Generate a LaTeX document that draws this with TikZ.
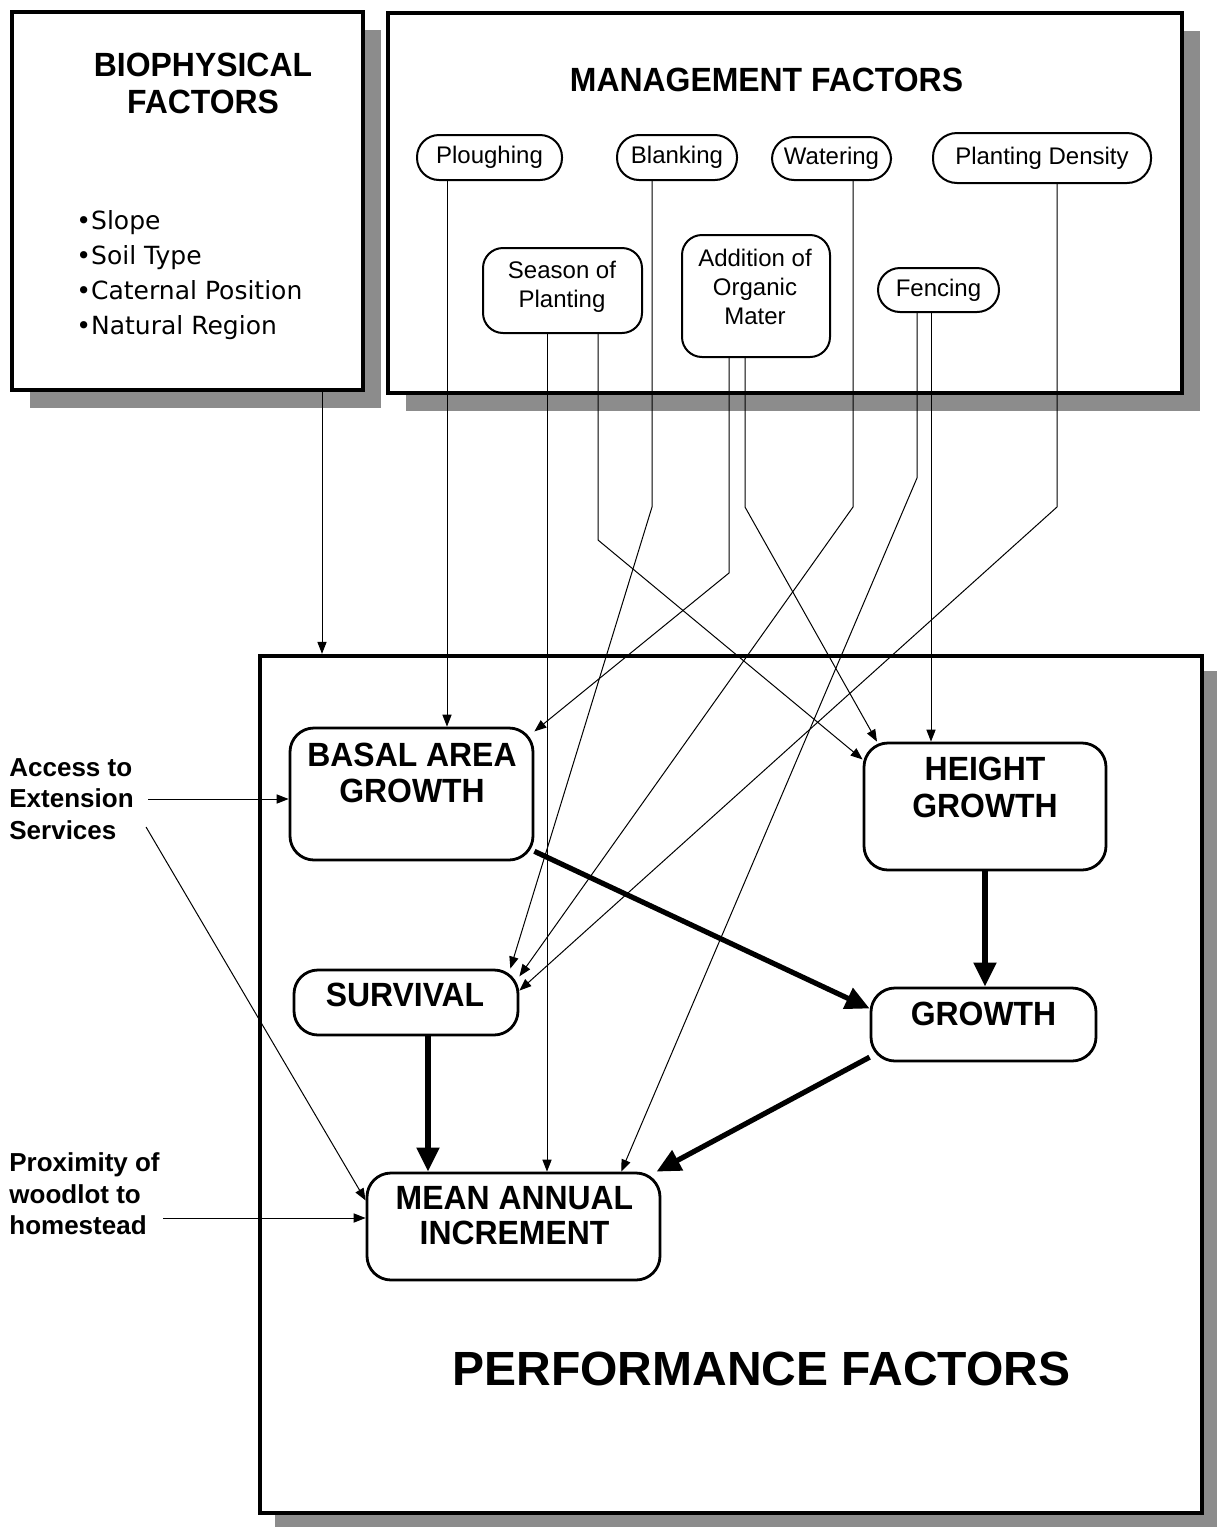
\documentclass[tikz,border=0pt]{standalone}
\usepackage{fontspec}
\setmainfont{Liberation Sans}
\newfontfamily\hbold{Liberation Sans}[FakeStretch=0.95]
\newfontfamily\bulletfont{DejaVu Sans}
\usetikzlibrary{arrows.meta,shadows}
\begin{document}
\begin{tikzpicture}[x=0.5pt,y=-0.5pt,
  bigbox/.style={draw,line width=2.2pt,fill=white,inner sep=0pt},
  bshadow/.style={drop shadow={shadow xshift=#1,shadow yshift=-#1,fill=black!45,opacity=1}},
  mfac/.style={draw,line width=1pt,rounded corners=11pt,fill=white,align=center,inner sep=0pt,
    font=\fontsize{12pt}{14.6pt}\selectfont},
  mtext/.style={align=center,inner sep=0pt,font=\fontsize{12pt}{14.6pt}\selectfont},
  pbox/.style={draw,line width=1.4pt,rounded corners=12pt,fill=white,inner sep=0pt},
  ptext/.style={align=center,inner sep=0pt,font=\hbold\bfseries\fontsize{16.8pt}{#1}\selectfont},
  ptext/.default=18pt,
  ltext/.style={align=left,inner sep=0pt,anchor=west,font=\bfseries\fontsize{13pt}{15.7pt}\selectfont},
  conn/.style={line width=0.5pt,-{Triangle[length=6pt,width=4.6pt]}},
  strongarr/.style={line width=2.6pt,-{Triangle[length=12pt,width=11pt]}}
]
\useasboundingbox (0,0) rectangle (1220,1527);

% big boxes
\node[bigbox,bshadow=9pt,minimum width=175.5pt,minimum height=189pt] (bio) at (187.5,201) {};
\node[bigbox,bshadow=9pt,minimum width=397pt,minimum height=190pt] (mgmt) at (785,203) {};
\node[bigbox,bshadow=7.5pt,minimum width=471pt,minimum height=428.5pt] (perf) at (731,1084.5) {};

% titles
\node[ptext=18.5pt] (bioT) at (203,83.5) {BIOPHYSICAL\\FACTORS};
\node[ptext] (mgmtT) at (766.5,80) {MANAGEMENT FACTORS};
\node[inner sep=0pt,font=\bfseries\fontsize{24pt}{28pt}\selectfont] (perfT) at (761.5,1368.5) {PERFORMANCE FACTORS};

\node[anchor=north west,align=left,inner sep=0pt,font=\bulletfont\fontsize{12.5pt}{17.5pt}\selectfont] (biolist) at (76,210)
  {•Slope\\•Soil Type\\•Caternal Position\\•Natural Region};

% management factors
\node[mfac,minimum width=72.5pt,minimum height=22.5pt] (plough) at (489.5,157.5) {Ploughing};
\node[mfac,minimum width=60pt,minimum height=22.5pt] (blank) at (677,157.5) {Blanking};
\node[mfac,minimum width=59.5pt,minimum height=21.5pt] (water) at (831.5,158.5) {Watering};
\node[mfac,minimum width=109pt,minimum height=25pt,rounded corners=12pt] (density) at (1042,158) {Planting Density};
\node[mfac,minimum width=79.5pt,minimum height=42.5pt,rounded corners=10pt] (seasonbox) at (562.5,290.5) {};
\node[mtext] (seasonT) at (562,287) {Season of\\Planting};
\node[mfac,minimum width=74pt,minimum height=61pt,rounded corners=10pt] (addbox) at (756,296) {};
\node[mtext] (addT) at (755,287) {Addition of\\Organic\\Mater};
\node[mfac,minimum width=60.5pt,minimum height=22pt] (fencing) at (938.5,290) {Fencing};

% performance nodes
\node[pbox,minimum width=121.5pt,minimum height=66pt] (basal) at (411.5,794) {};
\node[ptext=18pt] (basalT) at (412,773) {BASAL AREA\\GROWTH};
\node[pbox,minimum width=121pt,minimum height=63.5pt] (height) at (985,806.5) {};
\node[ptext=18.5pt] (heightT) at (985,787.5) {HEIGHT\\GROWTH};
\node[pbox,minimum width=112pt,minimum height=32.5pt] (survival) at (406,1002.5) {};
\node[ptext] (survivalT) at (405,995) {SURVIVAL};
\node[pbox,minimum width=112.5pt,minimum height=36.5pt] (growth) at (983.5,1024.5) {};
\node[ptext] (growthT) at (983.5,1014) {GROWTH};
\node[pbox,minimum width=146.5pt,minimum height=53.5pt] (mai) at (513.5,1226.5) {};
\node[ptext=17.5pt] (maiT) at (514.5,1216) {MEAN ANNUAL\\INCREMENT};

% outside labels
\node[ltext] (access) at (9,799) {Access to\\Extension\\Services};
\node[ltext] (prox) at (9,1194) {Proximity of\\woodlot to\\homestead};

% bend points
\coordinate (sb) at (598,540);
\coordinate (bb) at (652,507);
\coordinate (ab1) at (729,573);
\coordinate (ab2) at (745,507);
\coordinate (wb) at (853,507);
\coordinate (fb) at (917,478);
\coordinate (db) at (1057,507);
\coordinate (accA) at ([xshift=7pt]access.east);
\coordinate (accB) at ([xshift=6pt,yshift=-14pt]access.east);
\coordinate (proxA) at ([xshift=1.5pt,yshift=-12pt]prox.east);

% thin connectors
\draw[conn] (bio.south -| 322,0) -- (perf.north -| 322,0);
\draw[conn] (plough.south -| 447,0) -- (basal.north -| 447,0);
\draw[conn] (seasonbox.south -| 547,0) -- (mai.north -| 547,0);
\draw[conn] (seasonbox.south -| sb) -- (sb) -- (height.159);
\draw[conn] (blank.south -| bb) -- (bb) -- (survival.18);
\draw[conn] (addbox.south -| ab1) -- (ab1) -- (basal.27);
\draw[conn] (addbox.south -| ab2) -- (ab2) -- (height.149);
\draw[conn] (water.south -| wb) -- (wb) -- (survival.13);
\draw[conn] (fencing.south -| fb) -- (fb) -- (mai.27);
\draw[conn] (fencing.south -| 931,0) -- (height.north -| 931,0);
\draw[conn] (density.south -| db) -- (db) -- (survival.6);
\draw[conn] (accA) -- (accA -| basal.west);
\draw[conn] (accB) -- (mai.170);
\draw[conn] (proxA) -- (proxA -| mai.west);

% thick connectors
\draw[strongarr] (basal.335) -- (growth.172);
\draw[strongarr] (height.south) -- (height.south |- growth.north);
\draw[strongarr] (survival.south -| 428,0) -- (mai.north -| 428,0);
\draw[strongarr] (growth.196) -- (mai.21);
\end{tikzpicture}
\end{document}
